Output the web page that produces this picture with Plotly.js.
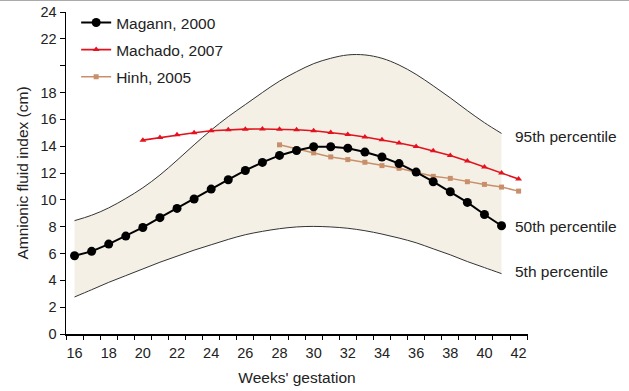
<!DOCTYPE html>
<html>
<head>
<meta charset="utf-8">
<script src="https://cdn.plot.ly/plotly-3.0.1.min.js"></script>
<style>html,body{margin:0;padding:0;background:#fff;}#chart{width:629px;height:391px;}</style>
</head>
<body>
<div id="chart"></div>
<script>
// ---- data ----
const weeks = [16,17,18,19,20,21,22,23,24,25,26,27,28,29,30,31,32,33,34,35,36,37,38,39,40,41];
const p95 = [8.45,8.85,9.4,10.1,10.9,11.85,12.95,14.1,15.2,16.2,17.1,18.0,18.85,19.55,20.15,20.55,20.8,20.8,20.55,20.05,19.35,18.5,17.6,16.65,15.75,14.95];
const p5  = [2.76,3.3,3.85,4.35,4.85,5.35,5.8,6.25,6.65,7.05,7.4,7.65,7.85,7.98,8.02,7.98,7.88,7.7,7.45,7.15,6.8,6.35,5.9,5.4,4.95,4.5];
const magann = [5.83,6.16,6.7,7.3,7.94,8.67,9.36,10.06,10.8,11.5,12.19,12.79,13.31,13.68,13.96,13.96,13.85,13.56,13.19,12.7,12.07,11.35,10.6,9.81,8.91,8.07];

const machadoWeeks = [20,21,22,23,24,25,26,27,28,29,30,31,32,33,34,35,36,37,38,39,40,41,42];
const machado = [14.45,14.65,14.85,15.0,15.15,15.22,15.27,15.28,15.27,15.22,15.15,15.02,14.87,14.68,14.48,14.23,13.98,13.65,13.3,12.9,12.45,12.0,11.55];

const hinhWeeks = [28,29,30,31,32,33,34,35,36,37,38,39,40,41,42];
const hinh = [14.1,13.8,13.5,13.2,13.0,12.8,12.55,12.35,12.05,11.75,11.6,11.35,11.15,10.95,10.65];

const xTickVals = [16,18,20,22,24,26,28,30,32,34,36,38,40,42];
const xMinorTicks = [15.5,16.5,17.5,18.5,19.5,20.5,21.5,22.5,23.5,24.5,25.5,26.5,27.5,28.5,29.5,30.5,31.5,32.5,33.5,34.5,35.5,36.5,37.5,38.5,39.5,40.5,41.5,42.5];
const yTickVals = [0,2,4,6,8,10,12,14,16,18,20,22,24];
const yTickText = ['0','2','4','6','8','10','12','14','16','18','','22','24'];

const FONT = 'Liberation Sans, Arial, Helvetica, sans-serif';

const traces = [
  {x: weeks, y: p5, type:'scatter', mode:'lines', line:{color:'#333', width:1, shape:'spline'}, showlegend:false, hoverinfo:'skip'},
  {x: weeks, y: p95, type:'scatter', mode:'lines', line:{color:'#333', width:1, shape:'spline'}, fill:'tonexty', fillcolor:'#f4f0e6', showlegend:false, hoverinfo:'skip'},
  {x: hinhWeeks, y: hinh, type:'scatter', mode:'lines+markers', name:'Hinh, 2005', legendgroup:'c', legendrank:3,
   line:{color:'#c98f6b', width:1.5}, marker:{symbol:'square', size:5, color:'#c98f6b'}},
  {x: machadoWeeks, y: machado, type:'scatter', mode:'lines+markers', name:'Machado, 2007', legendgroup:'b', legendrank:2,
   line:{color:'#e3121e', width:1.6}, marker:{symbol:'triangle-up', size:6, color:'#e3121e'}},
  {x: weeks, y: magann, type:'scatter', mode:'lines+markers', name:'Magann, 2000', legendgroup:'a', legendrank:1,
   line:{color:'#000', width:2}, marker:{symbol:'circle', size:9, color:'#000'}},
  {x: [], y: [], xaxis:'x2', type:'scatter', mode:'lines', showlegend:false, hoverinfo:'skip'}
];

const layout = {
  width: 629, height: 391,
  margin: {l:66, r:101, t:12, b:57, autoexpand:false},
  paper_bgcolor:'#fff', plot_bgcolor:'#fff',
  font: {family: FONT, size: 15, color:'#222'},
  showlegend: true,
  legend: {x:0.022, y:1.019, xanchor:'left', yanchor:'top', bgcolor:'rgba(0,0,0,0)',
           font:{family:FONT, size:15.5, color:'#222'}, traceorder:'grouped', tracegroupgap:4, itemwidth:30},
  xaxis: {range:[15.5,42.55], tickmode:'array', tickvals:xTickVals, ticks:'', showgrid:false, zeroline:false, automargin:false,
          showline:true, linecolor:'#000', linewidth:1.5, tickfont:{size:14.5, color:'#222'}, ticklabelstandoff:5,
          title:{text:"Weeks' gestation", font:{size:15.5, color:'#222'}, standoff:12}},
  xaxis2: {range:[15.5,42.55], overlaying:'x', anchor:'y', side:'bottom', tickmode:'array', tickvals:xMinorTicks,
           ticks:'outside', ticklen:5, tickcolor:'#000', tickwidth:1, showticklabels:false, showgrid:false, zeroline:false, showline:false},
  yaxis: {range:[0,24], tickmode:'array', tickvals:yTickVals, ticktext:yTickText, ticks:'outside', ticklen:5, tickcolor:'#000', automargin:false,
          showgrid:false, zeroline:false, showline:true, linecolor:'#000', linewidth:1.5, tickfont:{size:14.5, color:'#222'},
          title:{text:'Amnionic fluid index (cm)', font:{size:15.5, color:'#222'}, standoff:8}},
  annotations: [
    {xref:'x', yref:'y', x:41.65, y:14.75, text:'95th percentile', showarrow:false, xanchor:'left', yanchor:'middle', font:{size:15.5, color:'#222'}},
    {xref:'x', yref:'y', x:41.65, y:8.0, text:'50th percentile', showarrow:false, xanchor:'left', yanchor:'middle', font:{size:15.5, color:'#222'}},
    {xref:'x', yref:'y', x:41.65, y:4.65, text:'5th percentile', showarrow:false, xanchor:'left', yanchor:'middle', font:{size:15.5, color:'#222'}}
  ],
  shapes: [
    {type:'line', xref:'paper', yref:'paper', x0:-0.2, x1:1.3, y0:1.037, y1:1.037, line:{color:'#aaa', width:2}}
  ]
};

Plotly.newPlot('chart', traces, layout, {staticPlot:true, displayModeBar:false});
</script>
</body>
</html>
